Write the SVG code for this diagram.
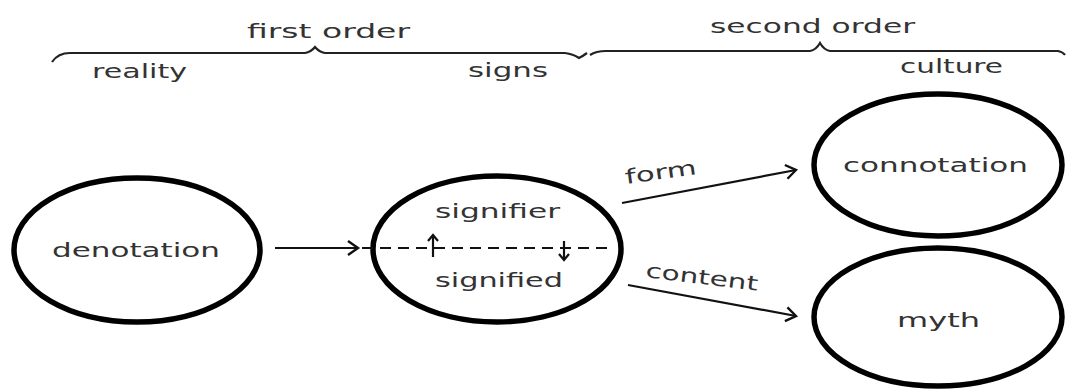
<svg xmlns="http://www.w3.org/2000/svg" width="1069" height="390" viewBox="0 0 1069 390">
<defs>
<style>
text{font-family:"DejaVu Sans","Liberation Sans",sans-serif;font-size:20px;fill:#333}
.node ellipse{fill:#fff;stroke:#000;stroke-width:5.5}
.brace{fill:none;stroke:#222;stroke-width:2.2}
.conn{fill:none;stroke:#111;stroke-width:2.2}
.dash{fill:none;stroke:#111;stroke-width:2;stroke-dasharray:11 7}
</style>
<marker id="open" markerWidth="16" markerHeight="18" refX="12" refY="9" orient="auto" markerUnits="userSpaceOnUse">
<path d="M2,2 L12,9 L2,16" fill="none" stroke="#111" stroke-width="2.4"/>
</marker>
<marker id="small" markerWidth="12" markerHeight="12" refX="7" refY="6" orient="auto" markerUnits="userSpaceOnUse">
<path d="M1,1 L7,6 L1,11" fill="none" stroke="#111" stroke-width="2.2"/>
</marker>
</defs>
<rect width="1069" height="390" fill="#fff"/>

<g id="labels">
<text x="247" y="38" textLength="163" lengthAdjust="spacingAndGlyphs">first order</text>
<text x="92" y="78" textLength="95" lengthAdjust="spacingAndGlyphs">reality</text>
<text x="468" y="77" textLength="80" lengthAdjust="spacingAndGlyphs">signs</text>
<text x="710" y="33" textLength="205" lengthAdjust="spacingAndGlyphs">second order</text>
<text x="900" y="73" textLength="103" lengthAdjust="spacingAndGlyphs">culture</text>
<path class="brace" d="M52,62 Q58,53 70,53 L305,53 Q311,52 315,47 Q319,52 325,53 L565,53 Q573,54 579,58 Q583,56 587,53"/>
<path class="brace" d="M590,55 Q596,51 606,51 L810,51 Q816,50 820,43 Q824,50 830,51 L1058,51 Q1063,52 1065,55"/>
</g>

<g id="denotation" class="node">
<ellipse cx="137" cy="250" rx="123" ry="72"/>
<text x="52" y="257" textLength="168" lengthAdjust="spacingAndGlyphs">denotation</text>
</g>

<g id="sign" class="node">
<ellipse cx="497" cy="249" rx="124" ry="73"/>
<text x="435" y="218" textLength="125" lengthAdjust="spacingAndGlyphs">signifier</text>
<text x="435" y="287" textLength="128" lengthAdjust="spacingAndGlyphs">signified</text>
</g>

<g id="connotation" class="node">
<ellipse cx="938" cy="165" rx="124" ry="71"/>
<text x="843" y="172" textLength="185" lengthAdjust="spacingAndGlyphs">connotation</text>
</g>

<g id="myth" class="node">
<ellipse cx="938" cy="317" rx="124" ry="69"/>
<text x="897" y="327" textLength="83" lengthAdjust="spacingAndGlyphs">myth</text>
</g>

<g id="connectors">
<line class="conn" x1="275" y1="248" x2="358" y2="248" marker-end="url(#open)"/>
<line class="dash" x1="362" y1="248" x2="610" y2="248"/>
<line class="conn" x1="433" y1="257" x2="433" y2="235" marker-end="url(#small)"/>
<line class="conn" x1="564" y1="241" x2="564" y2="260" marker-end="url(#small)"/>
<line class="conn" x1="622" y1="203" x2="796" y2="170" marker-end="url(#open)"/>
<line class="conn" x1="628" y1="285" x2="796" y2="316" marker-end="url(#open)"/>
<text x="626" y="184" transform="rotate(-8 626 184)" textLength="72" lengthAdjust="spacingAndGlyphs">form</text>
<text x="645" y="277" transform="rotate(7 645 277)" textLength="113" lengthAdjust="spacingAndGlyphs">content</text>
</g>
</svg>
